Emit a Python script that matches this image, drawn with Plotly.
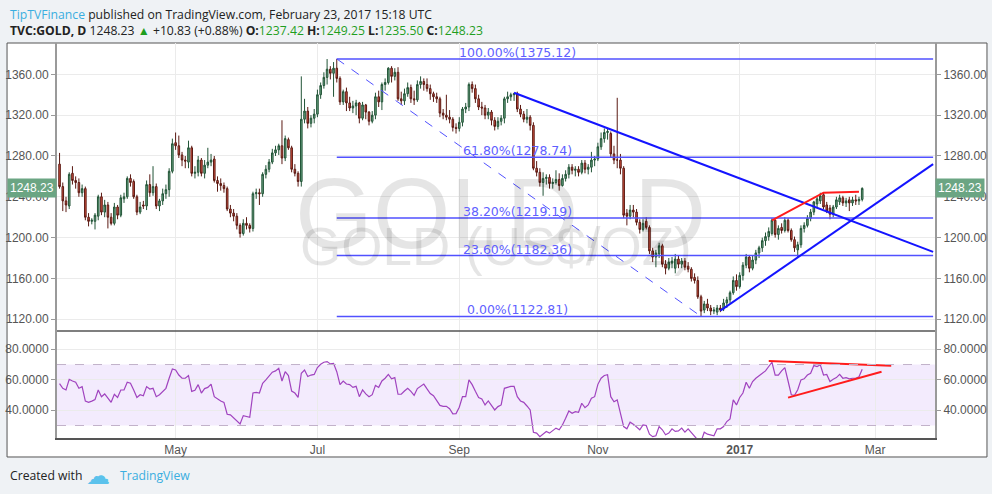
import pandas as pd
import plotly.graph_objects as go

# daily TVC:GOLD bars (Mar 11 2016 .. Feb 23 2017)
opens = [1272, 1250, 1236, 1231, 1263, 1256, 1254, 1244, 1248, 1220,
         1216, 1216, 1221, 1240, 1225, 1232, 1220, 1214, 1230, 1222,
         1238, 1240, 1258, 1255, 1240, 1225, 1232, 1231, 1252, 1244,
         1250, 1231, 1236, 1243, 1247, 1265, 1293, 1290, 1281, 1276,
         1274, 1288, 1263, 1264, 1276, 1263, 1271, 1274, 1277, 1256,
         1253, 1251, 1248, 1228, 1224, 1221, 1212, 1204, 1214, 1212,
         1209, 1243, 1244, 1243, 1262, 1267, 1274, 1283, 1286, 1290,
         1278, 1296, 1288, 1267, 1263, 1255, 1316, 1324, 1312, 1317,
         1321, 1340, 1349, 1357, 1365, 1361, 1366, 1356, 1333, 1343,
         1332, 1327, 1329, 1332, 1317, 1330, 1323, 1314, 1320, 1338,
         1333, 1350, 1352, 1366, 1358, 1362, 1336, 1334, 1341, 1347,
         1336, 1335, 1350, 1353, 1350, 1346, 1341, 1338, 1336, 1322,
         1320, 1318, 1316, 1308, 1307, 1313, 1326, 1328, 1350, 1346,
         1336, 1328, 1327, 1320, 1323, 1315, 1309, 1314, 1317, 1336,
         1338, 1340, 1341, 1326, 1321, 1316, 1318, 1310, 1268, 1264,
         1254, 1258, 1259, 1253, 1254, 1257, 1251, 1258, 1262, 1269,
         1266, 1267, 1264, 1273, 1267, 1269, 1276, 1277, 1289, 1297,
         1303, 1302, 1282, 1276, 1276, 1268, 1224, 1221, 1227, 1225,
         1215, 1208, 1216, 1210, 1187, 1181, 1184, 1192, 1174, 1170,
         1175, 1170, 1179, 1174, 1177, 1172, 1169, 1161, 1158, 1142,
         1129, 1135, 1131, 1128, 1127, 1131, 1130, 1136, 1139, 1146,
         1158, 1152, 1163, 1173, 1181, 1170, 1178, 1185, 1190, 1197,
         1201, 1204, 1217, 1203, 1210, 1207, 1217, 1207, 1198, 1188,
         1193, 1209, 1212, 1219, 1225, 1233, 1236, 1242, 1232, 1229,
         1223, 1230, 1235, 1239, 1234, 1237, 1234, 1237, 1236, 1237.42]
highs = [1283, 1254, 1240, 1264, 1270, 1260, 1258, 1252, 1250, 1224,
         1219, 1224, 1242, 1244, 1237, 1235, 1224, 1234, 1232, 1242,
         1244, 1260, 1262, 1257, 1242, 1235, 1236, 1256, 1262, 1270,
         1253, 1238, 1248, 1252, 1268, 1297, 1303, 1300, 1284, 1280,
         1295, 1290, 1270, 1280, 1278, 1276, 1288, 1282, 1280, 1260,
         1258, 1254, 1250, 1232, 1228, 1224, 1214, 1218, 1220, 1214,
         1245, 1248, 1248, 1264, 1271, 1277, 1287, 1290, 1292, 1315,
         1300, 1298, 1290, 1272, 1265, 1358, 1336, 1328, 1320, 1326,
         1345, 1352, 1362, 1375, 1368, 1372, 1375, 1358, 1345, 1347,
         1338, 1334, 1335, 1333, 1333, 1331, 1324, 1324, 1342, 1344,
         1352, 1356, 1367, 1368, 1366, 1367, 1343, 1346, 1352, 1350,
         1344, 1354, 1358, 1356, 1356, 1350, 1343, 1342, 1338, 1326,
         1340, 1325, 1318, 1312, 1318, 1328, 1332, 1352, 1353, 1350,
         1340, 1333, 1330, 1327, 1325, 1318, 1318, 1320, 1338, 1343,
         1342, 1342, 1343, 1330, 1324, 1326, 1320, 1313, 1275, 1268,
         1264, 1262, 1262, 1258, 1266, 1263, 1262, 1266, 1272, 1272,
         1270, 1270, 1276, 1276, 1272, 1284, 1280, 1293, 1303, 1307,
         1307, 1304, 1290, 1337, 1282, 1270, 1228, 1232, 1232, 1228,
         1218, 1218, 1220, 1212, 1190, 1188, 1195, 1194, 1178, 1180,
         1181, 1184, 1182, 1180, 1180, 1176, 1171, 1165, 1162, 1144,
         1138, 1140, 1134, 1132, 1134, 1134, 1140, 1142, 1148, 1162,
         1164, 1166, 1176, 1184, 1183, 1182, 1188, 1192, 1200, 1205,
         1210, 1219, 1218, 1212, 1214, 1220, 1219, 1209, 1201, 1196,
         1212, 1215, 1222, 1228, 1236, 1240, 1244, 1244, 1235, 1232,
         1232, 1240, 1242, 1241, 1239, 1240, 1240, 1242, 1240, 1249.25]
lows = [1248, 1226, 1225, 1228, 1252, 1248, 1240, 1240, 1217, 1211,
        1213, 1208, 1217, 1222, 1220, 1209, 1212, 1212, 1218, 1220,
        1234, 1238, 1250, 1238, 1222, 1223, 1228, 1227, 1240, 1241,
        1228, 1226, 1232, 1238, 1240, 1263, 1286, 1278, 1270, 1268,
        1268, 1260, 1258, 1260, 1260, 1258, 1268, 1270, 1254, 1245,
        1246, 1244, 1226, 1220, 1216, 1208, 1200, 1202, 1208, 1205,
        1206, 1238, 1232, 1240, 1258, 1264, 1272, 1280, 1281, 1272,
        1275, 1286, 1264, 1260, 1250, 1250, 1312, 1307, 1308, 1312,
        1318, 1336, 1346, 1350, 1355, 1338, 1352, 1330, 1330, 1324,
        1324, 1322, 1320, 1312, 1315, 1316, 1310, 1312, 1316, 1328,
        1325, 1344, 1350, 1352, 1354, 1334, 1330, 1330, 1338, 1332,
        1330, 1333, 1346, 1344, 1343, 1335, 1333, 1332, 1318, 1316,
        1315, 1312, 1304, 1302, 1304, 1309, 1322, 1324, 1342, 1332,
        1325, 1320, 1316, 1316, 1310, 1305, 1306, 1310, 1312, 1332,
        1334, 1334, 1323, 1318, 1313, 1312, 1305, 1266, 1260, 1250,
        1241, 1252, 1248, 1248, 1252, 1246, 1250, 1255, 1258, 1262,
        1260, 1260, 1262, 1263, 1262, 1264, 1270, 1275, 1286, 1293,
        1296, 1278, 1272, 1268, 1262, 1219, 1212, 1218, 1220, 1212,
        1204, 1206, 1208, 1184, 1176, 1171, 1180, 1171, 1164, 1168,
        1170, 1165, 1170, 1170, 1168, 1166, 1157, 1155, 1140, 1123,
        1126, 1128, 1124, 1125, 1124, 1127, 1128, 1131, 1136, 1144,
        1148, 1150, 1158, 1170, 1166, 1168, 1174, 1180, 1186, 1192,
        1197, 1202, 1200, 1198, 1204, 1205, 1205, 1196, 1186, 1180,
        1190, 1205, 1210, 1216, 1222, 1230, 1233, 1228, 1224, 1218,
        1220, 1228, 1232, 1231, 1230, 1226, 1231, 1232, 1232, 1235.50]
closes = [1250, 1236, 1232, 1262, 1256, 1254, 1244, 1248, 1220, 1216,
          1217, 1222, 1240, 1225, 1232, 1220, 1214, 1230, 1222, 1239,
          1240, 1258, 1254, 1240, 1225, 1230, 1231, 1252, 1244, 1250,
          1231, 1236, 1243, 1247, 1265, 1292, 1290, 1281, 1276, 1275,
          1288, 1263, 1264, 1276, 1263, 1271, 1274, 1276, 1256, 1253,
          1251, 1248, 1228, 1224, 1221, 1212, 1204, 1214, 1212, 1209,
          1243, 1244, 1243, 1262, 1267, 1274, 1283, 1286, 1290, 1278,
          1297, 1288, 1267, 1263, 1255, 1316, 1324, 1312, 1317, 1321,
          1340, 1349, 1357, 1365, 1361, 1366, 1356, 1333, 1343, 1332,
          1327, 1329, 1332, 1317, 1330, 1323, 1314, 1320, 1338, 1333,
          1350, 1352, 1366, 1358, 1362, 1336, 1334, 1341, 1347, 1336,
          1335, 1350, 1353, 1350, 1346, 1341, 1338, 1336, 1322, 1320,
          1318, 1316, 1308, 1307, 1313, 1326, 1328, 1350, 1346, 1336,
          1328, 1327, 1320, 1323, 1315, 1309, 1314, 1317, 1336, 1338,
          1340, 1341, 1326, 1321, 1316, 1318, 1310, 1268, 1264, 1254,
          1258, 1259, 1253, 1254, 1257, 1251, 1258, 1262, 1269, 1266,
          1267, 1264, 1273, 1267, 1269, 1276, 1277, 1289, 1297, 1303,
          1304, 1282, 1276, 1276, 1268, 1222, 1221, 1227, 1225, 1215,
          1208, 1214, 1210, 1187, 1181, 1185, 1192, 1174, 1170, 1176,
          1177, 1179, 1174, 1177, 1171, 1169, 1160, 1158, 1142, 1128,
          1135, 1131, 1128, 1129, 1131, 1129, 1136, 1139, 1146, 1158,
          1152, 1163, 1173, 1181, 1170, 1178, 1185, 1190, 1197, 1201,
          1206, 1217, 1203, 1209, 1207, 1217, 1207, 1198, 1190, 1193,
          1209, 1212, 1219, 1225, 1235, 1238, 1241, 1230, 1226, 1223,
          1230, 1237, 1239, 1234, 1236, 1234, 1237, 1236, 1237.42, 1248.23]
rsi = [57.5, 54.4, 53.3, 60.3, 59.2, 58.4, 54.4, 55.5, 46.0, 45.2,
       46.0, 47.0, 53.3, 48.9, 50.7, 47.9, 45.2, 50.5, 48.4, 53.3,
       53.3, 58.4, 57.7, 53.3, 48.4, 50.2, 49.5, 55.5, 53.9, 54.4,
       48.9, 50.2, 52.4, 54.4, 61.0, 67.1, 66.4, 63.1, 61.0, 61.0,
       62.8, 52.4, 53.1, 56.8, 51.3, 54.2, 55.0, 57.2, 48.9, 47.4,
       46.1, 45.2, 37.4, 37.0, 35.2, 33.0, 31.0, 36.5, 35.9, 35.4,
       51.3, 51.7, 51.3, 57.7, 59.9, 62.1, 65.0, 65.8, 67.5, 59.2,
       65.3, 62.8, 52.6, 51.3, 48.4, 64.3, 66.4, 62.1, 63.1, 63.5,
       68.0, 70.2, 71.5, 71.9, 70.4, 70.8, 65.3, 56.8, 59.2, 57.2,
       56.8, 55.0, 55.7, 48.9, 53.3, 50.7, 48.9, 50.2, 56.3, 55.0,
       59.2, 61.0, 63.5, 60.6, 61.4, 50.5, 50.5, 52.6, 54.4, 52.4,
       49.8, 54.2, 55.7, 57.2, 54.0, 51.0, 49.5, 46.0, 43.2, 42.6,
       42.6, 41.0, 37.7, 37.8, 42.0, 48.9, 48.9, 59.9, 56.8, 52.4,
       48.4, 47.4, 43.5, 46.1, 43.5, 40.2, 42.4, 43.5, 54.4, 55.0,
       55.7, 55.7, 48.9, 46.1, 45.2, 42.8, 40.2, 25.6, 25.0, 22.7,
       24.3, 26.1, 25.0, 26.5, 28.3, 27.2, 30.4, 34.8, 39.5, 38.0,
       39.1, 38.7, 44.6, 41.7, 43.5, 47.9, 48.9, 57.0, 61.0, 62.8,
       63.3, 48.9, 45.6, 46.8, 37.0, 29.3, 27.8, 32.2, 30.9, 29.3,
       27.2, 30.4, 30.0, 24.3, 22.7, 23.3, 29.3, 27.2, 23.9, 25.0,
       27.8, 26.1, 26.5, 28.3, 25.6, 27.8, 25.6, 22.7, 20.5, 19.5,
       25.6, 24.3, 23.9, 23.3, 27.8, 27.8, 29.3, 32.6, 34.3, 46.8,
       43.5, 48.4, 51.3, 58.4, 54.4, 58.8, 61.0, 62.8, 64.3, 65.8,
       68.7, 71.5, 63.1, 63.1, 65.8, 68.0, 59.2, 50.2, 49.8, 53.5,
       59.9, 60.6, 63.1, 64.3, 69.3, 68.7, 69.8, 63.1, 63.5, 58.8,
       60.3, 61.4, 63.5, 61.0, 61.4, 60.6, 61.0, 61.0, 62.0, 66.9]

dates = pd.bdate_range(end='2017-02-23', periods=len(closes))

# drawings on the chart
fib_levels = [1375.12, 1278.74, 1219.19, 1182.36, 1122.81]
fib_labels = ['100.00%(1375.12)', '61.80%(1278.74)', '38.20%(1219.19)',
              '23.60%(1182.36)', '0.00%(1122.81)']
fib_span = ['2016-07-11', '2017-03-27']
fib_label_date = '2016-09-27'
fib_diag_dates = ['2016-07-11', '2016-12-15']
fib_diag_prices = [1375.12, 1122.81]
down_trend_dates = ['2016-09-26', '2017-03-27']
down_trend_prices = [1342, 1186]
up_trend_dates = ['2016-12-23', '2017-03-27']
up_trend_prices = [1128.4, 1272]
red_price_dates = ['2017-01-16', '2017-02-07', '2017-02-22']
red_price_values = [1217, 1244, 1245]
rsi_top_dates = ['2017-01-13', '2017-03-08']
rsi_top_values = [72.3, 69.2]
rsi_low_dates = ['2017-01-23', '2017-03-03']
rsi_low_values = [48.3, 65.3]

month_ticks = ['2016-05-02', '2016-07-01', '2016-09-01', '2016-11-01', '2017-01-02', '2017-03-01']
month_labels = ['May', 'Jul', 'Sep', 'Nov', '<b>2017</b>', 'Mar']
price_ticks = [1120, 1160, 1200, 1240, 1280, 1320, 1360]
rsi_ticks = [40, 60, 80]

FIB_BLUE = '#5151ff'
TREND_BLUE = '#1414ff'
RED = '#ff1c1c'
PAGE_BG = '#eff2f5'
AXIS_FONT = dict(family='Liberation Sans, Arial', size=12, color='#555555')
SPLIT = 0.2709  # paper y of the price / rsi boundary

fig = go.Figure()

fig.add_trace(go.Candlestick(x=dates, open=opens, high=highs, low=lows, close=closes,
                             increasing=dict(fillcolor='#6ba583', line=dict(color='#225437', width=1)),
                             decreasing=dict(fillcolor='#d75442', line=dict(color='#5b1a13', width=1)),
                             whiskerwidth=0, showlegend=False, hoverinfo='skip'))

for level in fib_levels:
    fig.add_trace(go.Scatter(x=fib_span, y=[level, level], mode='lines',
                             line=dict(color=FIB_BLUE, width=1.5), showlegend=False, hoverinfo='skip'))

fig.add_trace(go.Scatter(x=fib_diag_dates, y=fib_diag_prices, mode='lines',
                         line=dict(color=FIB_BLUE, width=1, dash='dash'), showlegend=False, hoverinfo='skip'))
fig.add_trace(go.Scatter(x=down_trend_dates, y=down_trend_prices, mode='lines',
                         line=dict(color=TREND_BLUE, width=2), showlegend=False, hoverinfo='skip'))
fig.add_trace(go.Scatter(x=up_trend_dates, y=up_trend_prices, mode='lines',
                         line=dict(color=TREND_BLUE, width=2), showlegend=False, hoverinfo='skip'))
fig.add_trace(go.Scatter(x=red_price_dates, y=red_price_values, mode='lines',
                         line=dict(color=RED, width=2), showlegend=False, hoverinfo='skip'))

# rsi pane
fig.add_trace(go.Scatter(x=dates, y=rsi, yaxis='y2', mode='lines',
                         line=dict(color='#a043bf', width=1.2), showlegend=False, hoverinfo='skip'))
fig.add_trace(go.Scatter(x=rsi_top_dates, y=rsi_top_values, yaxis='y2', mode='lines',
                         line=dict(color=RED, width=2), showlegend=False, hoverinfo='skip'))
fig.add_trace(go.Scatter(x=rsi_low_dates, y=rsi_low_values, yaxis='y2', mode='lines',
                         line=dict(color=RED, width=2), showlegend=False, hoverinfo='skip'))

# hidden traces so the right hand scales get drawn
fig.add_trace(go.Scatter(x=dates[-1:], y=closes[-1:], yaxis='y3', mode='markers',
                         marker=dict(opacity=0), showlegend=False, hoverinfo='skip'))
fig.add_trace(go.Scatter(x=dates[-1:], y=rsi[-1:], yaxis='y4', mode='markers',
                         marker=dict(opacity=0), showlegend=False, hoverinfo='skip'))

price_axis = dict(range=[1108.5, 1390.7], tickvals=price_ticks,
                  ticktext=['%.2f' % v for v in price_ticks], tickfont=AXIS_FONT,
                  ticks='outside', ticklen=4, tickcolor='#9a9a9a', automargin=False,
                  showline=True, linecolor='#9a9a9a', linewidth=2, zeroline=False)
rsi_axis = dict(range=[21.8, 92], tickvals=rsi_ticks,
                ticktext=['%.4f' % v for v in rsi_ticks], tickfont=AXIS_FONT,
                ticks='outside', ticklen=4, tickcolor='#9a9a9a', automargin=False,
                showline=True, linecolor='#9a9a9a', linewidth=2, zeroline=False)

fig.update_layout(
    template='none',
    width=992, height=494,
    margin=dict(l=57, r=57, t=43, b=56),
    paper_bgcolor=PAGE_BG,
    plot_bgcolor='rgba(0,0,0,0)',
    xaxis=dict(type='date', range=['2016-03-10 05:00', '2017-03-27 14:00'],
               rangebreaks=[dict(bounds=['sat', 'mon'])], rangeslider=dict(visible=False),
               tickvals=month_ticks, ticktext=month_labels, tickfont=AXIS_FONT,
               showgrid=True, gridcolor='#ebebeb', anchor='y2', automargin=False,
               showline=True, linecolor='#555555', linewidth=1.5, ticks=''),
    yaxis=dict(domain=[SPLIT, 1], side='left', showgrid=True, gridcolor='#ebebeb', **price_axis),
    yaxis3=dict(overlaying='y', side='right', anchor='x', showgrid=False, **price_axis),
    yaxis2=dict(domain=[0, SPLIT], side='left', showgrid=True, gridcolor='#ebebeb', **rsi_axis),
    yaxis4=dict(overlaying='y2', side='right', anchor='x', showgrid=False, **rsi_axis),
)

# white chart frame, rsi band and pane separator
fig.add_shape(type='rect', xref='paper', yref='paper', x0=-0.0569, x1=1.0592, y0=-0.0481, y1=1,
              fillcolor='white', line=dict(color='#555555', width=1), layer='below')
fig.add_shape(type='rect', xref='paper', yref='y2', x0=0, x1=1, y0=30, y1=70,
              fillcolor='rgba(160, 90, 240, 0.12)', line=dict(width=0), layer='below')
for lvl in [30, 70]:
    fig.add_shape(type='line', xref='paper', yref='y2', x0=0, x1=1, y0=lvl, y1=lvl,
                  line=dict(color='#c2b2ca', width=1, dash='dash'))
fig.add_shape(type='line', xref='paper', yref='paper', x0=0, x1=1, y0=SPLIT, y1=SPLIT,
              line=dict(color='#555555', width=1.5))

# watermark
fig.add_annotation(xref='paper', yref='paper', x=0.5046, y=0.716, text='GOLD, D', showarrow=False,
                   font=dict(family='Liberation Sans, Arial', size=100, color='rgba(0,0,0,0.10)'))
fig.add_annotation(xref='paper', yref='paper', x=0.5, y=0.486, text='GOLD (US$/OZ)', showarrow=False,
                   font=dict(family='Liberation Sans, Arial', size=53, color='rgba(0,0,0,0.10)'))

for level, label in zip(fib_levels, fib_labels):
    fig.add_annotation(x=fib_label_date, y=level, text=label, showarrow=False,
                       yanchor='bottom', yshift=-3,
                       font=dict(family='DejaVu Sans, Verdana', size=12.5, color='#5f5fff'))

# last price boxes on both scales
for xpos, anchor in [(0, 'right'), (1, 'left')]:
    fig.add_annotation(xref='paper', yref='y', x=xpos, y=closes[-1], text='%.2f' % closes[-1],
                       xanchor=anchor, showarrow=False, bgcolor='#6ba583', borderpad=2,
                       font=dict(family='Liberation Sans, Arial', size=12, color='white'))

# header and footer
HEAD_FONT = dict(family='Open Sans, Noto Sans', size=12.2, color='#222222')
fig.add_annotation(xref='paper', yref='paper', x=-0.0558, y=1.0734, xanchor='left', yanchor='middle',
                   showarrow=False,
                   text='<span style="color:#3aaee0">TipTVFinance</span> published on TradingView.com, '
                        'February 23, 2017 15:18 UTC', font=HEAD_FONT)
green = '<span style="color:#1f9e1f">%s</span>'
fig.add_annotation(xref='paper', yref='paper', x=-0.0558, y=1.0304, xanchor='left', yanchor='middle',
                   showarrow=False,
                   text='<b>TVC:GOLD, D</b> 1248.23 ' + green % '▲' + ' +10.83 (+0.88%) '
                        '<b>O:</b>' + green % '1237.42' + ' <b>H:</b>' + green % '1249.25' +
                        ' <b>L:</b>' + green % '1235.50' + ' <b>C:</b>' + green % '1248.23',
                   font=HEAD_FONT)
fig.add_annotation(xref='paper', yref='paper', x=-0.0558, y=-0.0962, xanchor='left', yanchor='middle',
                   showarrow=False, text='Created with', font=HEAD_FONT)
fig.add_annotation(xref='paper', yref='paper', x=0.0308, y=-0.0962, yanchor='middle', showarrow=False,
                   text='☁', font=dict(family='DejaVu Sans', size=24, color='#5bc2ec'))
fig.add_annotation(xref='paper', yref='paper', x=0.0695, y=-0.0962, xanchor='left', yanchor='middle',
                   showarrow=False, text='TradingView',
                   font=dict(family='Open Sans, Noto Sans', size=12.2, color='#3aaee0'))

# the page itself should have no margin so the figure sits at the window corner
fig.write_html('out.html', config={'displayModeBar': False},
               post_script="document.body.style.margin='0';"
                           "document.body.style.background='%s';" % PAGE_BG)
